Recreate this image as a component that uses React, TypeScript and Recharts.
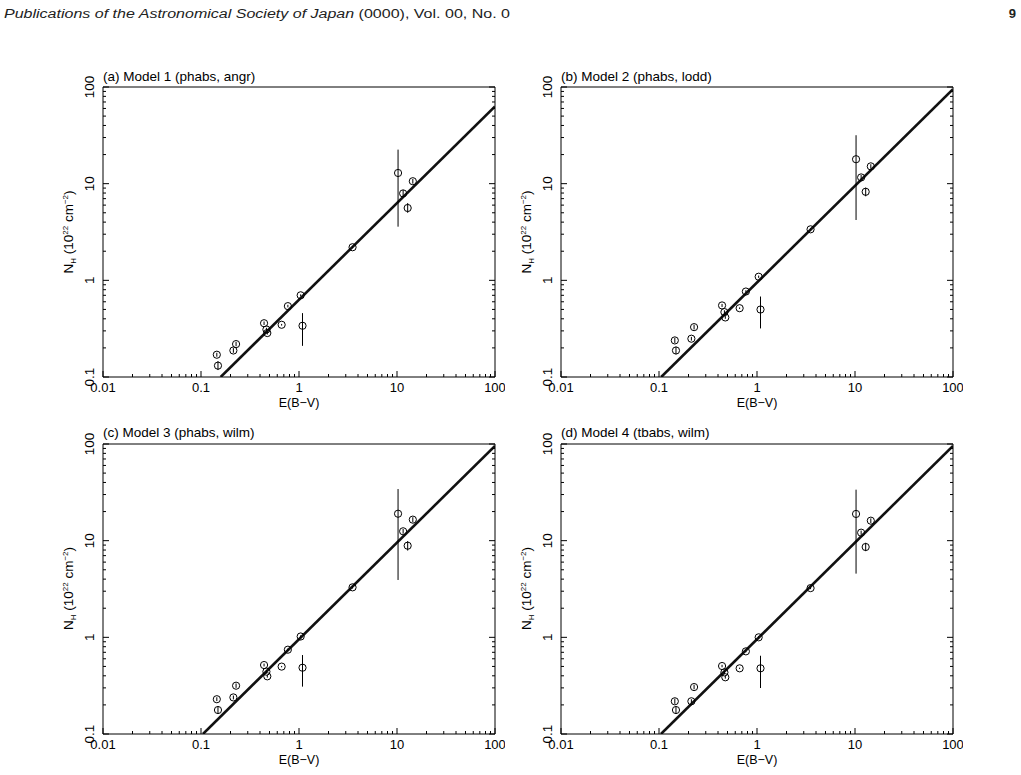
import React from 'react';
import { ComposedChart, Scatter, Line, XAxis, YAxis, ErrorBar } from 'recharts';

// E(B-V) values (shared by all panels)
const ebv = [0.145, 0.149, 0.214, 0.228, 0.44, 0.465, 0.475, 0.665, 0.77, 1.04, 1.086, 3.52, 10.25, 11.55, 12.85, 14.5];

// Panel (a) Model 1 (phabs, angr)
const nhA = [0.17, 0.131, 0.188, 0.219, 0.36, 0.31, 0.285, 0.347, 0.541, 0.7, 0.339, 2.2, 12.9, 7.93, 5.6, 10.6];
const loA = [0.162, 0.118, 0.178, 0.208, 0.345, 0.298, 0.275, 0.34, 0.525, 0.685, 0.21, 2.15, 3.59, 7.3, 5.0, 10.0];
const hiA = [0.178, 0.146, 0.199, 0.231, 0.375, 0.323, 0.296, 0.354, 0.558, 0.716, 0.458, 2.25, 22.5, 8.6, 6.3, 11.2];

// Panel (b) Model 2 (phabs, lodd)
const nhB = [0.239, 0.188, 0.249, 0.328, 0.55, 0.469, 0.413, 0.515, 0.766, 1.09, 0.499, 3.37, 17.9, 11.6, 8.24, 15.1];
const loB = [0.225, 0.172, 0.238, 0.31, 0.53, 0.45, 0.4, 0.505, 0.745, 1.06, 0.318, 3.28, 4.21, 11.0, 7.4, 14.3];
const hiB = [0.254, 0.206, 0.26, 0.347, 0.57, 0.49, 0.427, 0.525, 0.79, 1.12, 0.68, 3.46, 31.7, 12.3, 9.1, 15.9];

// Panel (c) Model 3 (phabs, wilm)
const nhC = [0.229, 0.177, 0.239, 0.316, 0.517, 0.442, 0.395, 0.498, 0.745, 1.02, 0.485, 3.29, 19.0, 12.5, 8.87, 16.5];
const loC = [0.219, 0.163, 0.228, 0.3, 0.5, 0.425, 0.383, 0.49, 0.725, 0.99, 0.309, 3.2, 3.92, 11.8, 7.9, 15.5];
const hiC = [0.24, 0.193, 0.25, 0.333, 0.535, 0.46, 0.408, 0.506, 0.765, 1.05, 0.656, 3.38, 34.2, 13.2, 9.9, 17.5];

// Panel (d) Model 4 (tbabs, wilm)
const nhD = [0.218, 0.177, 0.218, 0.306, 0.505, 0.434, 0.386, 0.478, 0.716, 1.0, 0.478, 3.23, 18.9, 12.1, 8.6, 16.1];
const loD = [0.205, 0.162, 0.208, 0.29, 0.49, 0.418, 0.374, 0.47, 0.7, 0.97, 0.299, 3.15, 4.56, 11.5, 7.8, 15.2];
const hiD = [0.232, 0.193, 0.229, 0.323, 0.52, 0.45, 0.398, 0.486, 0.733, 1.03, 0.645, 3.31, 33.7, 12.7, 9.5, 17.0];

// best-fit normalisation: N_H = k * E(B-V)
const fitNorm = [0.63, 0.95, 0.955, 0.955];

const titles = [
  '(a) Model 1 (phabs, angr)',
  '(b) Model 2 (phabs, lodd)',
  '(c) Model 3 (phabs, wilm)',
  '(d) Model 4 (tbabs, wilm)',
];

const xMajor = [0.01, 0.1, 1, 10, 100];
const yMajor = [0.1, 1, 10, 100];
const minorSteps = [2, 3, 4, 5, 6, 7, 8, 9];

const withMinors = (majors: number[]) => {
  const out: number[] = [];
  majors.forEach((m, i) => {
    out.push(m);
    if (i < majors.length - 1) minorSteps.forEach((s) => out.push(+(m * s).toPrecision(6)));
  });
  return out;
};
const xTicks = withMinors(xMajor);
const yTicks = withMinors(yMajor);

const FONT = '"Liberation Sans", Arial, Helvetica, sans-serif';
const TICK_FS = 13;
const MAJ = 6;
const MIN = 3;

const BottomTick = (p: any) => {
  const { x, y, payload } = p;
  const v = payload.value;
  const maj = xMajor.includes(v);
  return (
    <g>
      <line x1={x} x2={x} y1={y} y2={y - (maj ? MAJ : MIN)} stroke="#000" strokeWidth={1} />
      {maj && (
        <text x={x} y={y + 15} textAnchor="middle" fontSize={TICK_FS} fontFamily={FONT} fill="#000">
          {String(v)}
        </text>
      )}
    </g>
  );
};

const TopTick = (p: any) => {
  const { x, y, payload } = p;
  const maj = xMajor.includes(payload.value);
  return <line x1={x} x2={x} y1={y} y2={y + (maj ? MAJ : MIN)} stroke="#000" strokeWidth={1} />;
};

const LeftTick = (p: any) => {
  const { x, y, payload } = p;
  const v = payload.value;
  const maj = yMajor.includes(v);
  const tx = x - 9;
  return (
    <g>
      <line x1={x} x2={x + (maj ? MAJ : MIN)} y1={y} y2={y} stroke="#000" strokeWidth={1} />
      {maj && (
        <text
          x={tx}
          y={y}
          transform={`rotate(-90 ${tx} ${y})`}
          textAnchor="middle"
          fontSize={13.5}
          fontFamily={FONT}
          fill="#000"
        >
          {String(v)}
        </text>
      )}
    </g>
  );
};

const RightTick = (p: any) => {
  const { x, y, payload } = p;
  const maj = yMajor.includes(payload.value);
  return <line x1={x} x2={x - (maj ? MAJ : MIN)} y1={y} y2={y} stroke="#000" strokeWidth={1} />;
};

const Ring = (p: any) => {
  const { cx, cy } = p;
  if (cx == null || cy == null) return null;
  return <circle cx={cx} cy={cy} r={3.6} fill="none" stroke="#000" strokeWidth={1} />;
};

const PW = 392;
const PH = 290;
// axis bands are 1px each; margins are reduced by 1 so the plot box stays at PW x PH
const M = { top: 29, right: 9, bottom: 34, left: 44 };

const panels = [
  { left: 103, top: 87, nh: nhA, lo: loA, hi: hiA },
  { left: 561, top: 87, nh: nhB, lo: loB, hi: hiB },
  { left: 103, top: 443.5, nh: nhC, lo: loC, hi: hiC },
  { left: 561, top: 443.5, nh: nhD, lo: loD, hi: hiD },
];

const Panel = ({ idx }: { idx: number }) => {
  const pn = panels[idx];
  const k = fitNorm[idx];
  const pts = ebv.map((x, i) => ({
    x,
    y: pn.nh[i],
    err: [pn.nh[i] - pn.lo[i], pn.hi[i] - pn.nh[i]],
  }));
  const fit = [
    { x: 0.1 / k, y: 0.1 },
    { x: 100, y: 100 * k },
  ];
  return (
    <div style={{ position: 'absolute', left: pn.left - M.left - 1, top: pn.top - M.top - 1 }}>
      <ComposedChart width={PW + M.left + M.right + 2} height={PH + M.top + M.bottom + 2} margin={M}>
        <XAxis
          xAxisId={0}
          dataKey="x"
          type="number"
          scale="log"
          domain={[0.01, 100]}
          allowDataOverflow
          ticks={xTicks}
          interval={0}
          height={1}
          tickSize={0}
          tickMargin={0}
          tickLine={false}
          tick={<BottomTick />}
          axisLine={{ stroke: '#000', strokeWidth: 1 }}
        />
        <XAxis
          xAxisId="top"
          orientation="top"
          type="number"
          scale="log"
          domain={[0.01, 100]}
          allowDataOverflow
          ticks={xTicks}
          interval={0}
          height={1}
          tickSize={0}
          tickMargin={0}
          tickLine={false}
          tick={<TopTick />}
          axisLine={{ stroke: '#000', strokeWidth: 1 }}
        />
        <YAxis
          yAxisId={0}
          dataKey="y"
          type="number"
          scale="log"
          domain={[0.1, 100]}
          allowDataOverflow
          ticks={yTicks}
          interval={0}
          width={1}
          tickSize={0}
          tickMargin={0}
          tickLine={false}
          tick={<LeftTick />}
          axisLine={{ stroke: '#000', strokeWidth: 1 }}
        />
        <YAxis
          yAxisId="right"
          orientation="right"
          type="number"
          scale="log"
          domain={[0.1, 100]}
          allowDataOverflow
          ticks={yTicks}
          interval={0}
          width={1}
          tickSize={0}
          tickMargin={0}
          tickLine={false}
          tick={<RightTick />}
          axisLine={{ stroke: '#000', strokeWidth: 1 }}
        />
        <Line
          data={fit}
          dataKey="y"
          type="linear"
          dot={false}
          stroke="#111"
          strokeWidth={2.6}
          isAnimationActive={false}
        />
        <Scatter data={pts} dataKey="y" shape={<Ring />} isAnimationActive={false}>
          <ErrorBar dataKey="err" direction="y" width={0} stroke="#000" strokeWidth={1} isAnimationActive={false} />
        </Scatter>
      </ComposedChart>
    </div>
  );
};

const Labels = () => (
  <svg
    width={1021}
    height={775}
    style={{ position: 'absolute', left: 0, top: 0 }}
    fontFamily={FONT}
  >
    <text x={4} y={17.5} fontSize={12.5} fill="#222" textLength={506} lengthAdjust="spacingAndGlyphs">
      <tspan fontStyle="italic">Publications of the Astronomical Society of Japan</tspan>
      <tspan> (0000), Vol. 00, No. 0</tspan>
    </text>
    <text x={1016} y={17.5} fontSize={13} fontWeight="bold" textAnchor="end" fill="#222">
      9
    </text>
    {panels.map((pn, i) => {
      const cx = pn.left - 30;
      const cy = pn.top + PH / 2;
      return (
        <g key={i}>
          <text x={pn.left} y={pn.top - 6.3} fontSize={13.5} fill="#000">
            {titles[i]}
          </text>
          <text x={pn.left + PW / 2} y={pn.top + PH + 30} fontSize={12.5} textAnchor="middle" fill="#000">
            E(B−V)
          </text>
          <text
            x={cx}
            y={cy}
            transform={`rotate(-90 ${cx} ${cy})`}
            textAnchor="middle"
            fontSize={13.5}
            fill="#000"
          >
            <tspan>N</tspan>
            <tspan dy={3} fontSize={8}>H</tspan>
            <tspan dy={-3}> (10</tspan>
            <tspan dy={-5} fontSize={8}>22</tspan>
            <tspan dy={5}> cm</tspan>
            <tspan dy={-5} fontSize={8}>−2</tspan>
            <tspan dy={5}>)</tspan>
          </text>
        </g>
      );
    })}
  </svg>
);

export default function App() {
  return (
    <div style={{ position: 'absolute', left: 0, top: 0, width: 1021, height: 775, background: '#fff' }}>
      <Labels />
      {[0, 1, 2, 3].map((i) => (
        <Panel key={i} idx={i} />
      ))}
    </div>
  );
}
